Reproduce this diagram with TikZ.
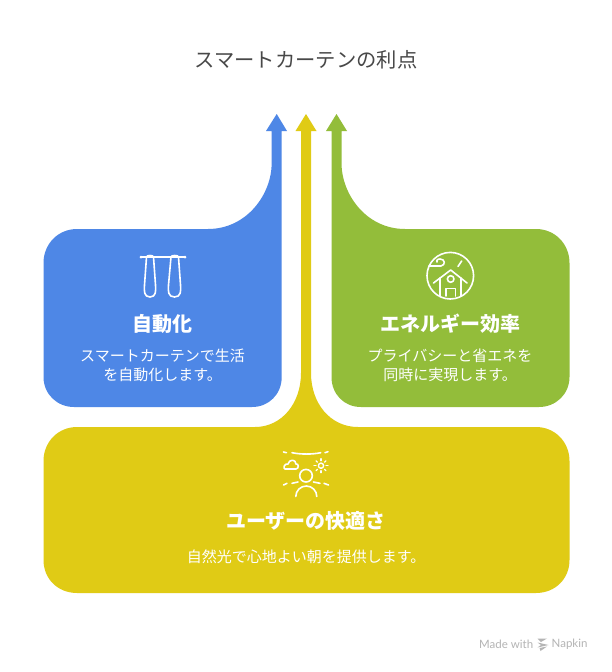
\documentclass[tikz,border=0pt]{standalone}
\usepackage{fontspec}
\usetikzlibrary{calc}
\setmainfont{Noto Sans CJK JP}
\newfontfamily\wm{Lato}
\definecolor{cblue}{HTML}{4E87E6}
\definecolor{cyellow}{HTML}{E0CB15}
\definecolor{cgreen}{HTML}{93BD3A}
\definecolor{ctitle}{HTML}{484848}
\definecolor{cmark}{HTML}{B4B4B4}
\tikzset{
  x=1pt,y=-1pt,
  titletext/.style={text=ctitle,font=\fontsize{20.3}{24}\selectfont,inner sep=0pt},
  headtext/.style={text=white,font=\fontsize{20}{24}\selectfont\bfseries,inner sep=0pt},
  bodytext/.style={text=white,font=\fontsize{15}{19}\selectfont,inner sep=0pt,align=center},
  iconline/.style={draw=white,line width=1.6pt,line cap=round,line join=round,fill=none},
  wmark/.style={text=cmark,font=\wm\fontsize{11.5}{14}\selectfont,inner sep=0pt,anchor=west}
}
\begin{document}
\begin{tikzpicture}
\useasboundingbox (0,0) rectangle (612,672);
\fill[white] (0,0) rectangle (612,672);
% blue
\fill[cblue] (276.7,114) -- (287,131) -- (281.7,131) -- (281.7,377)
  .. controls (281.7,394) and (269,407) .. (252,407) -- (74,407)
  .. controls (57,407) and (43.5,394) .. (43.5,377) -- (43.5,263)
  .. controls (43.5,244) and (58,229) .. (77,229) -- (208,229)
  .. controls (247,229) and (271.7,194) .. (271.7,163) -- (271.7,131) -- (266,131) -- cycle;
% green
\fill[cgreen] (336.5,114) -- (347,131) -- (341.5,131) -- (341.5,163)
  .. controls (341.5,194) and (366,229) .. (405,229) -- (536,229)
  .. controls (555,229) and (569.5,244) .. (569.5,263) -- (569.5,377)
  .. controls (569.5,394) and (556,407) .. (539,407) -- (361,407)
  .. controls (344,407) and (331.5,394) .. (331.5,377) -- (331.5,131) -- (326,131) -- cycle;
% yellow
\fill[cyellow] (306,114) -- (316.5,131) -- (311,131) -- (311,373)
  .. controls (311,403) and (330,427) .. (358,427) -- (536,427)
  .. controls (555,427) and (569.5,442) .. (569.5,461) -- (569.5,560)
  .. controls (569.5,579) and (555,593) .. (536,593) -- (77,593)
  .. controls (58,593) and (43.5,579) .. (43.5,560) -- (43.5,461)
  .. controls (43.5,442) and (58,427) .. (77,427) -- (255,427)
  .. controls (282,427) and (301,403) .. (301,373) -- (301,131) -- (295.5,131) -- cycle;
% curtain icon
\draw[iconline] (141,257) -- (185,257);
\fill[white] (141,257) circle[radius=1.5] (185,257) circle[radius=1.5];
\draw[iconline] (146.5,257) .. controls (146.5,255) and (153.5,255) .. (153.5,257)
  -- (155.5,285) .. controls (156,291) and (156,297) .. (150,297)
  .. controls (144,297) and (144,291) .. (144.5,285) -- cycle;
\draw[iconline] (171,257) .. controls (171,255) and (178.5,255) .. (178.5,257)
  -- (180.5,285) .. controls (181,291) and (181,297) .. (174.5,297)
  .. controls (168,297) and (168,291) .. (168.5,285) -- cycle;
% house icon
\draw[iconline] (450.3,275.7) circle[radius=23.3];
\draw[iconline] (433.5,283) -- (450.7,270) -- (467,283);
\draw[iconline] (440,278) -- (440,296);
\draw[iconline] (461,278) -- (461,296);
\draw[iconline] (446,296) -- (446,288.5) -- (455.5,288.5) -- (455.5,296);
\draw[iconline] (450.7,279) circle[radius=3.3];
\draw[iconline] (429,266) -- (441,266) .. controls (446,265) and (445,259) .. (440,259)
  .. controls (437,259) and (436,261) .. (437,262);
\draw[iconline] (458,266.5) -- (461.7,261);
% person icon
\draw[iconline] (292,452.7) .. controls (301,454.5) and (312,454.5) .. (320.7,452.7);
\draw[iconline] (283.5,452) -- (286.5,452.7);
\draw[iconline] (325,452.7) -- (328,451.7);
\draw[iconline] (285,469) .. controls (283,469) and (284,463) .. (288,464)
  .. controls (289,459) and (296,459) .. (296,464)
  .. controls (299,463) and (299,469) .. (296,469) -- cycle;
\draw[iconline,line width=1.4pt] (321,465.7) circle[radius=2.6];
\foreach \a in {0,45,...,315}
  \draw[iconline,line width=1.3pt] ($(321,465.7)+(\a:5)$) -- ($(321,465.7)+(\a:7)$);
\draw[iconline] (306,475.7) circle[radius=6.3];
\draw[iconline] (295.8,496.5) arc[start angle=180,end angle=360,radius=10.5];
\draw[iconline] (283.5,485) -- (287,483.3);
\draw[iconline] (292,483.3) -- (298,482);
\draw[iconline] (313.5,482) -- (320,483.3);
\draw[iconline] (324,483.3) -- (328.5,485);
% texts
\node[titletext] (t) at (306,60) {スマートカーテンの利点};
\node[headtext] (h1) at (162.5,324) {自動化};
\node[bodytext] (b1a) at (162.5,356) {スマートカーテンで生活};
\node[bodytext] (b1b) at (162.5,375) {を自動化します。};
\node[headtext] (h2) at (450,324) {エネルギー効率};
\node[bodytext] (b2a) at (450,356) {プライバシーと省エネを};
\node[bodytext] (b2b) at (450,375) {同時に実現します。};
\node[headtext] (h3) at (306,521) {ユーザーの快適さ};
\node[bodytext] (b3) at (306,557) {自然光で心地よい朝を提供します。};
% watermark
\node[wmark] (m1) at (479,644.5) {Made with};
\node[wmark] (m2) at (551.5,644.5) {Napkin};
\fill[cmark] (537.5,638.5) -- (547,638.5) -- (541,642) -- cycle;
\fill[cmark] (537.5,642.5) -- (548.5,645) -- (537.5,647.5) -- (541,645) -- cycle;
\fill[cmark] (540.5,651) -- (547,646.5) -- (539.5,648) -- cycle;
\end{tikzpicture}
\end{document}
